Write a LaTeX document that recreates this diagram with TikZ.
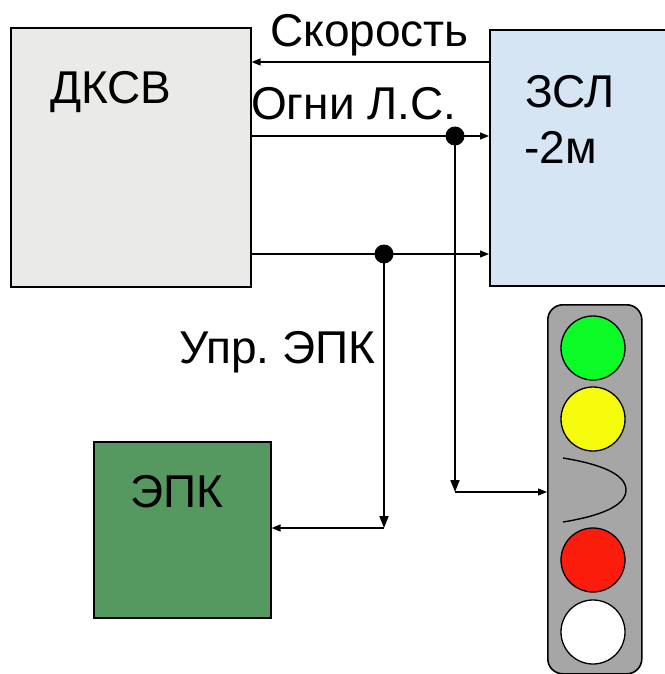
\documentclass[tikz,border=0pt]{standalone}
\usepackage{fontspec}
\setmainfont{Liberation Sans}
\usetikzlibrary{arrows.meta}
\frenchspacing
\begin{document}
\begin{tikzpicture}[x=1pt,y=-1pt,
  blk/.style={draw=black, line width=1.6pt, inner sep=0pt, anchor=north west},
  lbl/.style={font=\fontsize{46}{48}\selectfont, inner sep=0pt, anchor=base west},
  conn/.style={line width=1.3pt, -{Triangle[length=9pt,width=7pt]}},
  vconn/.style={line width=1.8pt, -{Triangle[length=12pt,width=9pt]}},
  lamp/.style={circle, draw=black, line width=1.3pt, minimum size=64pt, inner sep=0pt},
  jdot/.style={fill=black}]
\useasboundingbox (0,0) rectangle (664,674);
\definecolor{dkfill}{HTML}{EAEAE8}
\definecolor{zslfill}{HTML}{D5E5F4}
\definecolor{epkfill}{HTML}{559960}
\definecolor{tlfill}{HTML}{A6A6A6}
\definecolor{lgreen}{HTML}{0CFC28}
\definecolor{lyellow}{HTML}{F7FC0C}
\definecolor{lred}{HTML}{FC1C0C}

% blocks
\node[blk, fill=dkfill, minimum width=240pt, minimum height=259pt] (dksv) at (10,27) {};
\node[blk, fill=zslfill, minimum width=200pt, minimum height=256pt] (zsl) at (489,29) {};
\node[blk, fill=epkfill, minimum width=177pt, minimum height=176pt] (epk) at (93,441) {};
\node[blk, fill=tlfill, rounded corners=15pt, minimum width=94pt, minimum height=369pt] (tl) at (547,304) {};

% lamps
\node[lamp, fill=lgreen] (lg) at (593,348) {};
\node[lamp, fill=lyellow] (ly) at (593,419) {};
\node[lamp, fill=lred] (lr) at (593,560) {};
\node[lamp, fill=white] (lw) at (593,632) {};
\draw[line width=1.4pt] (563,458) .. controls (600,464) and (626,474) .. (626,490)
      .. controls (626,506) and (600,516) .. (563,522);

% labels
\node[lbl] (tdksv) at (50,103) {ДКСВ};
\node[lbl] (tzsl) at (525,107) {ЗСЛ};
\node[lbl] (tzsl2) at (524,163) {-2м};
\node[lbl] (tepk) at (130,507) {ЭПК};
\node[lbl] (tspeed) at (270,47) {Скорость};
\node[lbl] (tfire) at (251,120) {Огни Л.С.};
\node[lbl] (tupr) at (179,363) {Упр. ЭПК};

% junctions
\coordinate (j1) at (455,136);
\coordinate (j2) at (384,254);
\coordinate (c1) at (455,492);
\coordinate (c2) at (384,528);

% connectors
\draw[conn] (zsl.west |- 0,62) -- (dksv.east |- 0,62);
\draw[conn] (dksv.east |- j1) -- (zsl.west |- j1);
\draw[conn] (dksv.east |- j2) -- (zsl.west |- j2);
\draw[vconn] (j1) -- (c1);
\draw[conn] (c1) -- (tl.west |- c1);
\draw[vconn] (j2) -- (c2);
\draw[conn] (c2) -- (epk.east |- c2);
\fill[jdot] (j1) circle (9.5pt);
\fill[jdot] (j2) circle (9.5pt);
\end{tikzpicture}
\end{document}
